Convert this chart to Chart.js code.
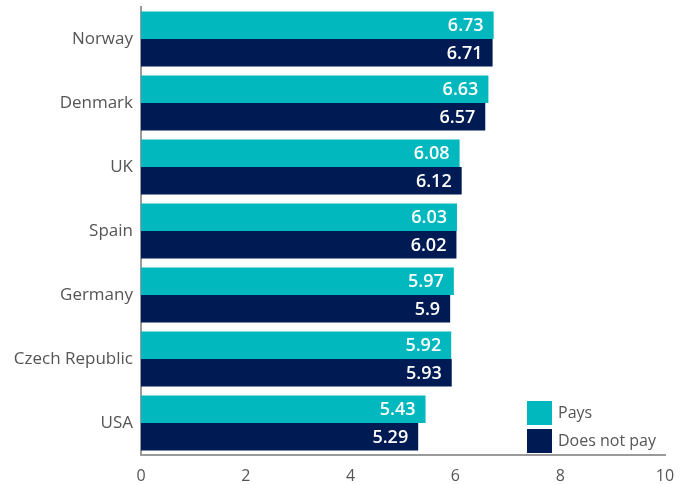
<!DOCTYPE html>
<html>
<head>
<meta charset="utf-8">
<script src="https://cdn.jsdelivr.net/npm/chart.js@4/dist/chart.umd.min.js"></script>
<style>
  html, body { margin: 0; padding: 0; background: #fff; }
  #wrap { width: 686px; height: 485px; }
</style>
</head>
<body>
<div id="wrap"><canvas id="chart"></canvas></div>
<script>
const countries = ['Norway', 'Denmark', 'UK', 'Spain', 'Germany', 'Czech Republic', 'USA'];
const paysValues = [6.73, 6.63, 6.08, 6.03, 5.97, 5.92, 5.43];
const notPayValues = [6.71, 6.57, 6.12, 6.02, 5.9, 5.93, 5.29];
const xTicks = [0, 2, 4, 6, 8, 10];

const FONT = '"Open Sans", Lato, sans-serif';

// value labels at the inner end of each bar
const barLabels = {
  id: 'barLabels',
  afterDatasetsDraw(chart) {
    const ctx = chart.ctx;
    ctx.save();
    ctx.font = '600 18px ' + FONT;
    ctx.fillStyle = '#ffffff';
    ctx.textAlign = 'right';
    ctx.textBaseline = 'middle';
    chart.data.datasets.forEach((ds, i) => {
      chart.getDatasetMeta(i).data.forEach((bar, j) => {
        ctx.fillText(String(ds.data[j]), bar.x - 10, bar.y + 1);
      });
    });
    ctx.restore();
  }
};

// legend drawn inside the plot, bottom right
const innerLegend = {
  id: 'innerLegend',
  afterDraw(chart) {
    const ctx = chart.ctx;
    const area = chart.chartArea;
    const x = area.right - 138;
    let y = area.bottom - 54;
    ctx.save();
    ctx.font = '16px ' + FONT;
    ctx.textBaseline = 'middle';
    chart.data.datasets.forEach(ds => {
      ctx.fillStyle = ds.backgroundColor;
      ctx.fillRect(x, y, 25, 24);
      ctx.fillStyle = '#555555';
      ctx.fillText(ds.label, x + 31, y + 12);
      y += 28;
    });
    ctx.restore();
  }
};

new Chart(document.getElementById('chart'), {
  type: 'bar',
  data: {
    labels: countries,
    datasets: [
      { label: 'Pays', data: paysValues, backgroundColor: '#00b8be' },
      { label: 'Does not pay', data: notPayValues, backgroundColor: '#001b54' }
    ]
  },
  options: {
    indexAxis: 'y',
    responsive: true,
    maintainAspectRatio: false,
    animation: false,
    layout: { padding: { top: 7, right: 21, left: 0, bottom: 0 } },
    categoryPercentage: 0.86,
    barPercentage: 1.0,
    plugins: {
      legend: { display: false },
      tooltip: { enabled: false }
    },
    scales: {
      x: {
        min: 0,
        max: 10,
        afterBuildTicks: scale => { scale.ticks = xTicks.map(v => ({ value: v })); },
        grid: { display: false, drawTicks: false },
        border: { display: true, color: '#9a9a9a', width: 2 },
        ticks: { color: '#555555', font: { family: FONT, size: 16 }, padding: 12 },
        afterFit: scale => { scale.height = 30; scale.paddingLeft = 0; scale.paddingRight = 0; }
      },
      y: {
        grid: { display: false, drawTicks: false },
        border: { display: true, color: '#9a9a9a', width: 2 },
        ticks: { color: '#555555', font: { family: FONT, size: 17 }, padding: 8 },
        afterFit: scale => { scale.width = 141; scale.paddingTop = 0; scale.paddingBottom = 0; }
      }
    }
  },
  plugins: [barLabels, innerLegend]
});
</script>
</body>
</html>
